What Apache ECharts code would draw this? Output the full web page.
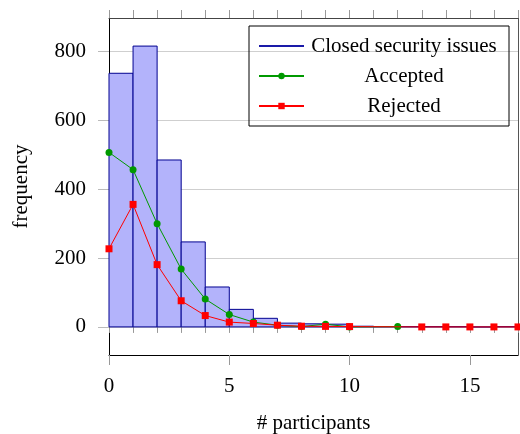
<!DOCTYPE html>
<html>
<head>
<meta charset="utf-8">
<script src="https://cdn.jsdelivr.net/npm/echarts@6/dist/echarts.min.js"></script>
<style>html,body{margin:0;padding:0;background:#fff}#c{width:520px;height:434px}</style>
</head>
<body>
<div id="c"></div>
<script>
// Histogram bins (left edge, right edge) and counts
const binStart = [0,1,2,3,4,5,6,7,8,9,10,11,12,13,14,15,16];
const binEnd   = [1,2,3,4,5,6,7,8,9,10,11,12,13,14,15,16,17];
const closedCounts = [737,816,485,247,116,51,25,11,9,8,2,1,1,1,1,0,1];
// Accepted
const acceptedX = [0,1,2,3,4,5,6,7,8,9,10,12];
const acceptedY = [507,457,300,168,81,36,14,5,1,8,0,1];
// Rejected
const rejectedX = [0,1,2,3,4,5,6,7,8,9,10,13,14,15,16,17];
const rejectedY = [227,356,181,76,33,14,10,5,2,1.5,1,0,0,0,0,0];
// Ticks
const xMajorTicks = [0,5,10,15];
const xMinorTicks = [0,1,2,3,4,5,6,7,8,9,10,11,12,13,14,15,16,17];
const yTicks = [0,200,400,600,800];

const FONT = 'Liberation Serif';
const FS = 21;
const histData = binStart.map((s,i)=>[s, binEnd[i], closedCounts[i]]);
const accData = acceptedX.map((x,i)=>[x, acceptedY[i]]);
const rejData = rejectedX.map((x,i)=>[x, rejectedY[i]]);

const chart = echarts.init(document.getElementById('c'));
const xRange = {min:0, max:17};
const yRange = {min:-81.6, max:897.6};
chart.setOption({
  animation:false,
  grid:{left:109, right:2, top:18, bottom:79, containLabel:false, outerBoundsMode:'none'},
  legend:{
    left:249, top:26,
    orient:'vertical',
    selectedMode:false,
    padding:[9,10,9,9],
    itemGap:8,
    itemWidth:45, itemHeight:8,
    itemTextGap:5,
    borderColor:'#000', borderWidth:1,
    data:[
      {name:'Closed security issues', itemStyle:{opacity:0}},
      {name:'Accepted'},
      {name:'Rejected'}
    ],
    formatter: n => '{c|' + n + '}',
    textStyle:{fontFamily:FONT, fontSize:FS, color:'#000', lineHeight:22,
      rich:{c:{width:190, align:'center', fontFamily:FONT, fontSize:FS, color:'#000', lineHeight:22}}}
  },
  xAxis:[
    {type:'value', position:'bottom', ...xRange, interval:5,
     axisLine:{show:true, onZero:false, lineStyle:{color:'#000', width:1}},
     axisTick:{show:true, customValues:xMajorTicks, length:10, lineStyle:{color:'#999'}},
     axisLabel:{customValues:xMajorTicks, margin:21, fontFamily:FONT, fontSize:FS, color:'#000'},
     splitLine:{show:false},
     name:'# participants', nameLocation:'middle', nameGap:58,
     nameTextStyle:{fontFamily:FONT, fontSize:FS, color:'#000'}},
    {type:'value', position:'bottom', ...xRange, interval:5,
     axisLine:{show:false},
     axisTick:{show:true, customValues:xMinorTicks, length:6, lineStyle:{color:'#999'}},
     axisLabel:{show:false}, splitLine:{show:false}},
    {type:'value', position:'top', ...xRange, interval:5,
     axisLine:{show:true, onZero:false, lineStyle:{color:'#444', width:1}},
     axisTick:{show:true, customValues:xMinorTicks, length:8, lineStyle:{color:'#999'}},
     axisLabel:{show:false}, splitLine:{show:false}}
  ],
  yAxis:[
    {type:'value', position:'left', ...yRange,
     axisLine:{show:true, onZero:false, lineStyle:{color:'#000', width:1}},
     axisTick:{show:true, customValues:yTicks, length:11, lineStyle:{color:'#bbb'}},
     axisLabel:{customValues:yTicks, margin:23, fontFamily:FONT, fontSize:FS, color:'#000'},
     splitLine:{show:true, lineStyle:{color:'#cfcfcf', width:1}},
     name:'frequency', nameLocation:'middle', nameGap:77, nameRotate:90,
     nameTextStyle:{fontFamily:FONT, fontSize:FS, color:'#000'}},
    {type:'value', position:'right', ...yRange,
     axisLine:{show:true, onZero:false, lineStyle:{color:'#555', width:1}},
     axisTick:{show:false}, axisLabel:{show:false}, splitLine:{show:false}}
  ],
  series:[
    {type:'custom', name:'hist', xAxisIndex:0, yAxisIndex:0, data:histData,
     encode:{x:[0,1], y:2},
     renderItem:(params, api)=>{
       const p0 = api.coord([api.value(0), 0]);
       const p1 = api.coord([api.value(1), api.value(2)]);
       return {type:'rect',
         shape:{x:p0[0], y:p1[1], width:p1[0]-p0[0], height:p0[1]-p1[1]},
         style:{fill:'#b3b3fb', stroke:'#000090', lineWidth:1}};
     }, z:2},
    {type:'line', name:'Closed security issues', data:[], symbol:'none',
     itemStyle:{color:'#1a1aa8'}, lineStyle:{color:'#1a1aa8', width:1}},
    {type:'line', name:'Accepted', data:accData, symbol:'circle', symbolSize:7,
     itemStyle:{color:'#009900'}, lineStyle:{color:'#009900', width:1}, z:3},
    {type:'line', name:'Rejected', data:rejData, symbol:'rect', symbolSize:7,
     itemStyle:{color:'#ff0000'}, lineStyle:{color:'#ff0000', width:1}, z:4}
  ]
});
</script>
</body>
</html>
